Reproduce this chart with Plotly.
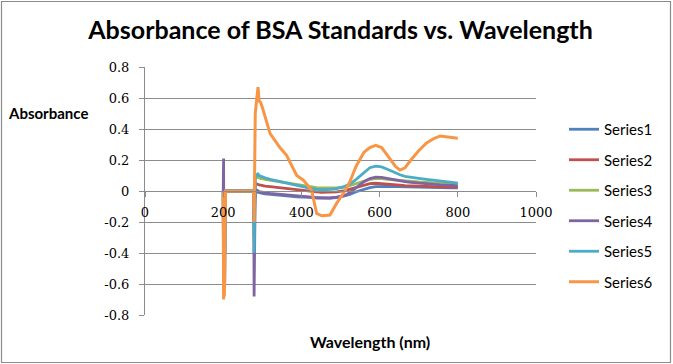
import plotly.graph_objects as go

wavelength = [200, 201, 202, 203, 204, 205, 206, 208, 240, 277, 278, 279, 280, 282, 286, 289, 292, 296,
              300, 307, 320, 345, 362, 388, 405, 426, 439, 452, 473, 490, 511, 524, 540, 560, 575, 590,
              605, 620, 640, 652, 665, 680, 700, 720, 740, 755, 770, 785, 800]

series1 = [0, -0.5, 0, -0.4, 0, -0.1, 0, 0, 0, 0, 0, -0.1, -0.02, -0.01, -0.005, -0.008, -0.01, -0.012,
           -0.015, -0.018, -0.022, -0.028, -0.032, -0.038, -0.04, -0.043, -0.045, -0.046, -0.046, -0.042,
           -0.032, -0.022, -0.005, 0.012, 0.022, 0.028, 0.03, 0.03, 0.028, 0.027, 0.026, 0.025, 0.024,
           0.023, 0.022, 0.021, 0.02, 0.02, 0.02]
series2 = [0, -0.55, 0, -0.45, 0, -0.2, 0, 0, 0, 0, 0, -0.2, 0.0, 0.04, 0.045, 0.04, 0.04, 0.038,
           0.035, 0.032, 0.028, 0.02, 0.015, 0.008, 0.003, -0.003, -0.006, -0.008, -0.008, -0.005,
           0.003, 0.012, 0.025, 0.04, 0.048, 0.05, 0.048, 0.045, 0.04, 0.038, 0.035, 0.033, 0.03,
           0.028, 0.027, 0.026, 0.025, 0.025, 0.025]
series3 = [0, -0.6, 0, -0.5, 0, -0.3, 0, 0, 0, 0, 0, -0.3, 0.05, 0.085, 0.09, 0.085, 0.085, 0.08,
           0.08, 0.075, 0.07, 0.06, 0.05, 0.04, 0.035, 0.025, 0.022, 0.02, 0.02, 0.02,
           0.025, 0.035, 0.045, 0.065, 0.075, 0.08, 0.08, 0.075, 0.07, 0.068, 0.065, 0.06, 0.058,
           0.055, 0.052, 0.05, 0.048, 0.045, 0.043]
series4 = [0, 0.21, -0.5, 0, -0.6, 0, 0, 0, 0, 0, 0, -0.68, -0.2, 0.0, 0.005, 0.0, -0.005, -0.005,
           -0.008, -0.01, -0.015, -0.02, -0.025, -0.03, -0.035, -0.04, -0.045, -0.045, -0.045, -0.04,
           -0.03, -0.01, 0.02, 0.06, 0.08, 0.09, 0.088, 0.08, 0.07, 0.065, 0.06, 0.055, 0.05,
           0.045, 0.042, 0.04, 0.038, 0.036, 0.035]
series5 = [0, -0.65, 0, -0.6, 0, -0.4, 0, 0, 0, 0, 0, -0.4, 0.05, 0.11, 0.1, 0.11, 0.1, 0.095,
           0.09, 0.085, 0.075, 0.06, 0.05, 0.035, 0.025, 0.015, 0.01, 0.008, 0.01, 0.015,
           0.03, 0.045, 0.075, 0.12, 0.15, 0.16, 0.155, 0.14, 0.115, 0.105, 0.095, 0.088, 0.082,
           0.075, 0.07, 0.065, 0.06, 0.055, 0.05]
series6 = [0, -0.7, -0.1, -0.68, -0.3, -0.5, 0, 0, 0, 0, 0, -0.2, 0.3, 0.5, 0.6, 0.67, 0.58, 0.57,
           0.54, 0.48, 0.37, 0.28, 0.23, 0.1, 0.07, 0.005, -0.145, -0.16, -0.155, -0.08,
           0.0, 0.06, 0.16, 0.25, 0.28, 0.295, 0.28, 0.23, 0.16, 0.135, 0.15, 0.2, 0.26,
           0.31, 0.34, 0.355, 0.35, 0.345, 0.34]

names = ["Series1", "Series2", "Series3", "Series4", "Series5", "Series6"]
colors = ["#4F81BD", "#C0504D", "#9BBB59", "#8064A2", "#4BACC6", "#F79646"]
all_series = [series1, series2, series3, series4, series5, series6]

y_tick_vals = [-0.8, -0.6, -0.4, -0.2, 0, 0.2, 0.4, 0.6, 0.8]
y_tick_text = ["-0.8", "-0.6", "-0.4", "-0.2", "0", "0.2", "0.4", "0.6", "0.8"]
x_tick_vals = [0, 200, 400, 600, 800, 1000]
x_tick_text = ["0", "200", "400", "600", "800", "1000"]

fig = go.Figure()
for i, (nm, col, ys) in enumerate(zip(names, colors, all_series)):
    fig.add_trace(go.Scatter(x=wavelength, y=ys, mode="lines", name=nm, legendgroup=nm,
                             line=dict(color=col, width=3 if nm == "Series6" else 2.8)))

L, R, T, B = 145, 137, 67, 49
W, H = 673, 364
pw, ph = W - L - R, H - T - B

grid = "#8c8c8c"
fig.update_layout(
    width=W, height=H,
    margin=dict(l=L, r=R, t=T, b=B),
    paper_bgcolor="white", plot_bgcolor="white",
    title=dict(text="<b>Absorbance of BSA Standards vs. Wavelength</b>", x=0.5, xref="paper",
               xanchor="center", y=1 - 30 / H, yanchor="middle",
               font=dict(family="Lato", size=25, color="black")),
    xaxis=dict(range=[0, 1000], tickvals=x_tick_vals, ticktext=x_tick_text, showgrid=False,
               zeroline=False, showline=True, linecolor=grid, linewidth=1, ticks="outside",
               ticklen=5, tickcolor=grid, anchor="free", position=0.5, ticklabelstandoff=4,
               tickfont=dict(family="DejaVu Serif", size=13, color="black")),
    yaxis=dict(range=[-0.8, 0.8], tickvals=y_tick_vals, ticktext=y_tick_text, showgrid=True,
               gridcolor=grid, gridwidth=1, zeroline=False, showline=True, linecolor=grid,
               linewidth=1, ticks="outside", ticklen=5, tickcolor=grid, ticklabelstandoff=7,
               tickfont=dict(family="DejaVu Serif", size=13, color="black")),
    legend=dict(x=(564 - L) / pw, y=1 - (113 - T) / ph, xanchor="left", yanchor="top",
                font=dict(family="Lato", size=15, color="black"), tracegroupgap=8,
                traceorder="grouped", bgcolor="rgba(0,0,0,0)"),
    showlegend=True,
)

fig.add_annotation(text="<b>Absorbance</b>", xref="paper", yref="paper",
                   x=(6 - L) / pw, y=1 - (113 - T) / ph, xanchor="left", yanchor="middle",
                   showarrow=False, font=dict(family="Lato", size=15, color="black"))
fig.add_annotation(text="<b>Wavelength (nm)</b>", xref="paper", yref="paper",
                   x=(370 - L) / pw, y=1 - (341 - T) / ph, xanchor="center", yanchor="middle",
                   showarrow=False, font=dict(family="Lato", size=16, color="black"))

fig.add_shape(type="rect", xref="paper", yref="paper",
              x0=(1.5 - L) / pw, x1=(W - 2.5 - L) / pw,
              y0=1 - (H - 1.5 - T) / ph, y1=1 - (1.5 - T) / ph,
              line=dict(color="#8c8c8c", width=1.2), fillcolor="rgba(0,0,0,0)", layer="below")

fig.write_html("out.html", config={"displayModeBar": False},
               post_script="document.body.style.margin='0';")
